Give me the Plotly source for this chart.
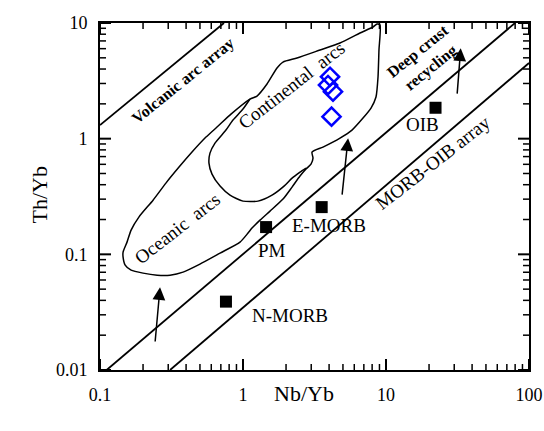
import numpy as np
import plotly.graph_objects as go

# ---------------- data (Nb/Yb, Th/Yb) ----------------
# reference mantle / basalt compositions
ref_names = ["N-MORB", "E-MORB", "PM", "OIB"]
ref_nb_yb = [0.76, 3.55, 1.45, 22.2]
ref_th_yb = [0.039, 0.256, 0.172, 1.85]

# samples (blue open diamonds)
smp_nb_yb = [4.06, 3.93, 4.26, 4.16]
smp_th_yb = [3.43, 2.91, 2.55, 1.55]

# MORB-OIB array boundaries and volcanic arc array line
morb_upper_x = [0.1113, 79.8]
morb_upper_y = [0.01, 10.0]
morb_lower_x = [0.309, 100.0]
morb_lower_y = [0.01, 4.51]
varc_x = [0.1, 0.736]
varc_y = [1.311, 10.0]

# outer field envelope (oceanic arcs + continental arcs)
env_x = [0.145, 0.150, 0.165, 0.200, 0.251, 0.309, 0.381, 0.500, 0.691, 0.953,
         1.084, 1.156, 1.315, 1.545, 1.905, 2.203, 2.504, 2.758, 2.989, 3.087,
         3.038, 3.625, 4.768, 5.783, 6.906, 7.856, 8.513, 8.794, 8.93, 9.08,
         8.65, 8.11, 6.58, 4.768, 3.456, 2.386, 1.905, 1.729, 1.472, 1.253,
         1.119, 0.824, 0.658, 0.551, 0.440, 0.357, 0.289, 0.235, 0.187, 0.165,
         0.1545, 0.145, 0.145]
env_y = [0.0946, 0.0807, 0.0730, 0.0688, 0.0661, 0.0661, 0.0702, 0.0823, 0.1024, 0.1275,
         0.1526, 0.1685, 0.1976, 0.2364, 0.3003, 0.3814, 0.4748, 0.5458, 0.6031, 0.6795,
         0.7657, 0.8459, 1.012, 1.187, 1.507, 1.839, 2.290, 3.411, 5.840, 9.61,
         9.80, 9.235, 8.196, 6.714, 5.840, 4.981, 4.598, 4.080, 2.967, 2.336,
         2.201, 1.632, 1.260, 1.032, 0.766, 0.568, 0.413, 0.294, 0.210, 0.162,
         0.1275, 0.1045, 0.0946]

# inner boundary of the continental arcs field
cont_x = [1.119, 1.0, 0.851, 0.760, 0.637, 0.5875, 0.578, 0.607, 0.691, 0.811,
          1.0, 1.273, 1.596, 1.936, 2.203, 2.504, 2.758]
cont_y = [2.201, 1.803, 1.448, 1.187, 0.916, 0.750, 0.615, 0.494, 0.389, 0.325,
          0.2885, 0.2885, 0.325, 0.389, 0.456, 0.514, 0.557]

# arrows (tail -> head), in data units
arrow_tail_x = [0.2425, 4.92, 31.4]
arrow_tail_y = [0.0171, 0.319, 2.38]
arrow_head_x = [0.263, 5.43, 33.3]
arrow_head_y = [0.052, 1.01, 6.04]

# axes
x_ticks = [0.1, 1, 10, 100]
x_tick_text = ["0.1", "1", "10", "100"]
y_ticks = [0.01, 0.1, 1, 10]
y_tick_text = ["0.01", "0.1", "1", "10"]
x_minor_ticks = [m * d for d in [0.1, 1, 10] for m in range(2, 10)]
y_minor_ticks = [m * d for d in [0.01, 0.1, 1] for m in range(2, 10)]

SERIF = "Liberation Serif, Times New Roman, serif"

W, H = 544, 431
M = dict(l=100, r=15, t=23, b=61)
X_RANGE = [-1, 2]
Y_RANGE = [-2, 1]

fig = go.Figure()

line_style = dict(color="black", width=1.8)
fig.add_trace(go.Scatter(x=morb_upper_x, y=morb_upper_y, mode="lines", line=line_style))
fig.add_trace(go.Scatter(x=morb_lower_x, y=morb_lower_y, mode="lines", line=line_style))
fig.add_trace(go.Scatter(x=varc_x, y=varc_y, mode="lines", line=line_style))
fig.add_trace(go.Scatter(x=env_x, y=env_y, mode="lines",
                         line=dict(color="black", width=1.5, shape="spline", smoothing=0.6)))
fig.add_trace(go.Scatter(x=cont_x, y=cont_y, mode="lines",
                         line=dict(color="black", width=1.5, shape="spline", smoothing=0.6)))

fig.add_trace(go.Scatter(x=ref_nb_yb, y=ref_th_yb, mode="markers",
                         marker=dict(symbol="square", size=12, color="black")))
fig.add_trace(go.Scatter(x=smp_nb_yb, y=smp_th_yb, mode="markers",
                         marker=dict(symbol="diamond-open", size=14, color="#0000FF",
                                     line=dict(width=2.5, color="#0000FF"))))

# ---- inward tick marks on all four sides, drawn as line traces ----
# px per decade of the plotting area, used to give ticks a fixed pixel length
px_dec_x = (W - M["l"] - M["r"]) / (X_RANGE[1] - X_RANGE[0])
px_dec_y = (H - M["t"] - M["b"]) / (Y_RANGE[1] - Y_RANGE[0])

def tick_trace(vals, axis, length, width):
    xs, ys = [], []
    for v in vals:
        if axis == "x":
            dy = length / px_dec_y
            lo, hi = Y_RANGE
            xs += [v, v, None, v, v, None]
            ys += [10 ** lo, 10 ** (lo + dy), None, 10 ** hi, 10 ** (hi - dy), None]
        else:
            dx = length / px_dec_x
            lo, hi = X_RANGE
            ys += [v, v, None, v, v, None]
            xs += [10 ** lo, 10 ** (lo + dx), None, 10 ** hi, 10 ** (hi - dx), None]
    return go.Scatter(x=xs, y=ys, mode="lines", hoverinfo="skip",
                      line=dict(color="black", width=width))

fig.add_trace(tick_trace(x_ticks, "x", 11, 2))
fig.add_trace(tick_trace(x_minor_ticks, "x", 6, 1.5))
fig.add_trace(tick_trace(y_ticks, "y", 11, 2))
fig.add_trace(tick_trace(y_minor_ticks, "y", 6, 1.5))

# arrows
for tx, ty, hx, hy in zip(arrow_tail_x, arrow_tail_y, arrow_head_x, arrow_head_y):
    fig.add_annotation(x=np.log10(hx), y=np.log10(hy), ax=np.log10(tx), ay=np.log10(ty),
                       xref="x", yref="y", axref="x", ayref="y", text="",
                       showarrow=True, arrowhead=2, arrowsize=1.7, arrowwidth=1.5,
                       arrowcolor="black")

# field labels
labels = [
    ("Volcanic arc array", 0.380, 3.15, -39, 16, True),
    ("Continental  arcs", 2.166, 2.91, -38, 19, False),
    ("Oceanic  arcs", 0.3455, 0.1685, -38, 19, False),
    ("MORB-OIB array", 21.3, 0.627, -38, 19, False),
    ("Deep crust<br>recycling", 18.74, 4.79, -39, 16, True),
    ("OIB", 18.14, 1.337, 0, 19, False),
    ("E-MORB", 3.995, 0.1789, 0, 19, False),
    ("PM", 1.595, 0.1087, 0, 19, False),
    ("N-MORB", 2.132, 0.0298, 0, 19, False),
]
for txt, lx, ly, ang, size, bold in labels:
    fig.add_annotation(x=np.log10(lx), y=np.log10(ly), xref="x", yref="y",
                       text=f"<b>{txt}</b>" if bold else txt, showarrow=False,
                       textangle=ang, font=dict(family=SERIF, size=size, color="black"),
                       align="center")

# axis titles
fig.add_annotation(x=0.4755, y=-0.11, xref="paper", yref="paper", text="Nb/Yb",
                   showarrow=False, font=dict(family=SERIF, size=22, color="black"))
fig.add_annotation(x=-0.175, y=0.504, xref="paper", yref="paper", text="Th/Yb",
                   showarrow=False, textangle=-90,
                   font=dict(family=SERIF, size=22, color="black"))

axis_style = dict(type="log", showgrid=False, zeroline=False, showline=True,
                  linewidth=2, linecolor="black", mirror=True, ticks="",
                  automargin=False, ticklabelstandoff=7,
                  tickfont=dict(family=SERIF, size=18, color="black"))

fig.update_layout(
    width=W, height=H, showlegend=False, margin=M,
    plot_bgcolor="white", paper_bgcolor="white",
    xaxis=dict(range=X_RANGE, tickvals=x_ticks, ticktext=x_tick_text, **axis_style),
    yaxis=dict(range=Y_RANGE, tickvals=y_ticks, ticktext=y_tick_text, **axis_style),
)

fig.write_html("out.html",
               config={"displayModeBar": False},
               post_script="document.body.style.margin='0';"
                           "document.body.style.overflow='hidden';")
